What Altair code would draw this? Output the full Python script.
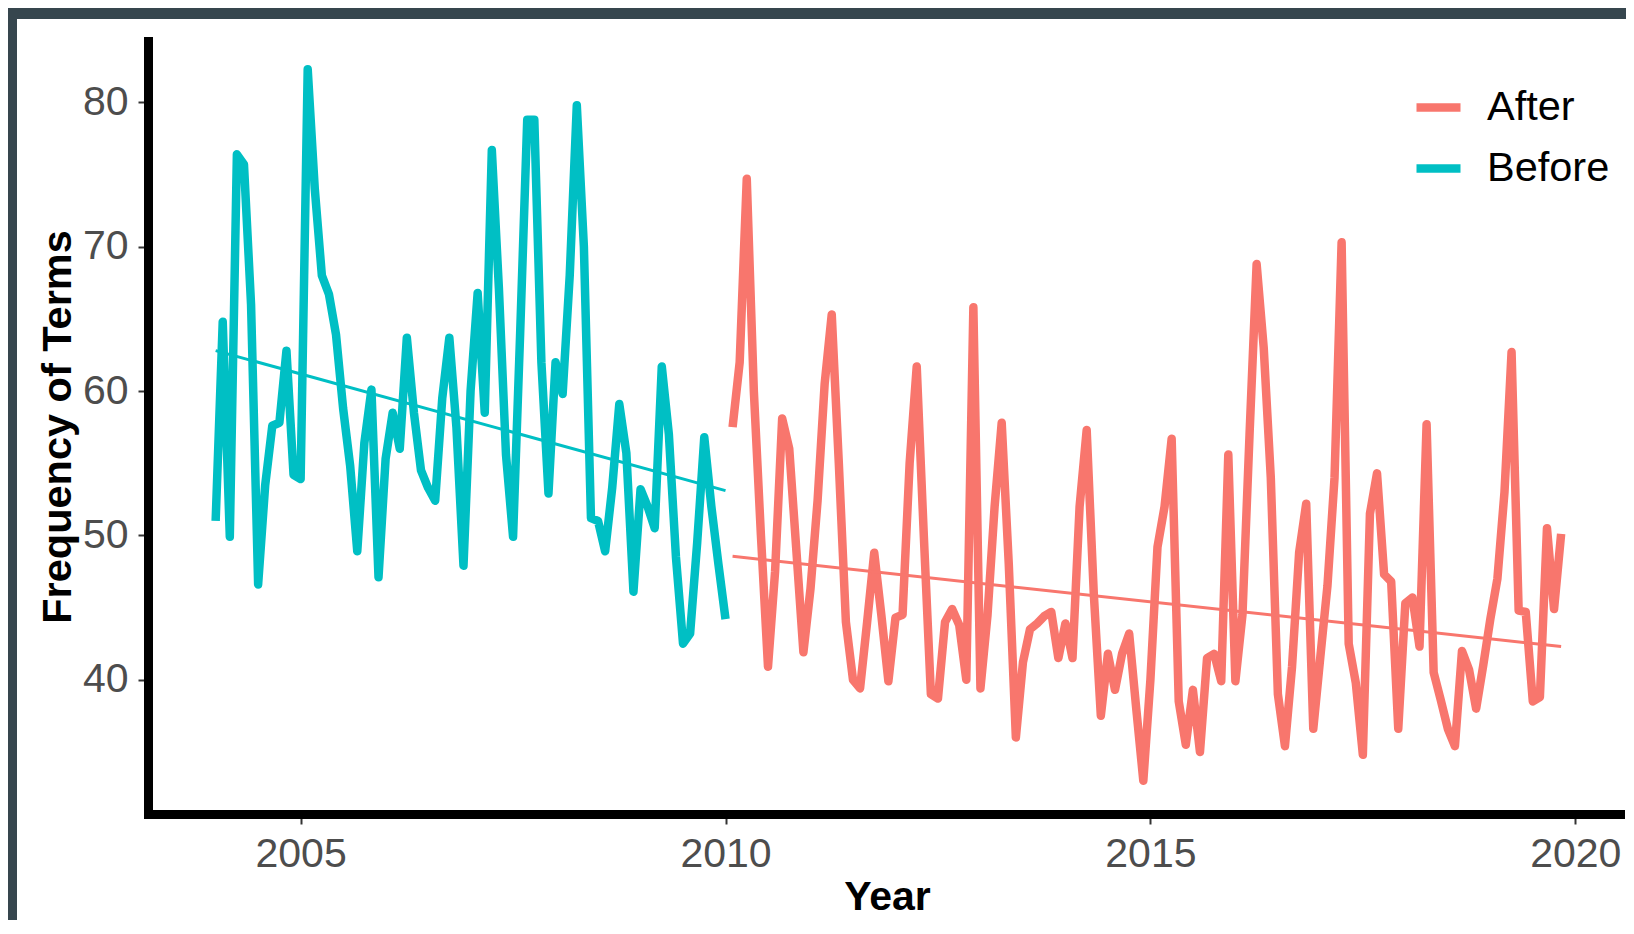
import altair as alt
import pandas as pd

# Monthly values
# Before: Jan 2004 .. Jan 2010
before_values = [
    51.0, 64.8, 49.9, 76.4, 75.7, 66.0, 46.6, 53.5, 57.6, 57.8, 62.8, 54.2,
    53.9, 82.3, 74.0, 68.0, 66.7, 63.9, 58.8, 54.8, 48.9, 56.4, 60.1, 47.1,
    55.3, 58.5, 56.0, 63.7, 58.5, 54.5, 53.3, 52.4, 59.5, 63.7, 57.5, 47.9,
    60.0, 66.8, 58.5, 76.7, 67.1, 55.6, 49.9, 64.0, 78.8, 78.8, 62.0, 52.9,
    62.0, 59.8, 68.0, 79.8, 70.0, 51.2, 51.0, 48.9, 53.3, 59.1, 55.7, 46.1,
    53.2, 52.0, 50.5, 61.7, 57.0, 48.5, 42.5, 43.2, 49.5, 56.8, 52.0, 48.0,
    44.2,
]
# After: Feb 2010 .. Nov 2019
after_values = [
    57.5, 62.0, 74.7, 60.0, 50.0, 40.9, 47.5, 58.1, 56.0, 49.0, 41.9,
    46.3, 52.4, 60.5, 65.3, 55.0, 44.0, 40.0, 39.4, 44.0, 48.8, 44.5, 39.9,
    44.3, 44.5, 55.0, 61.7, 50.0, 39.0, 38.7, 44.0, 44.9, 43.8, 40.0, 65.8,
    39.4, 44.5, 52.0, 57.8, 48.0, 36.0, 41.2, 43.5, 43.9, 44.4, 44.7, 41.5,
    43.9, 41.5, 52.0, 57.3, 46.0, 37.5, 41.8, 39.3, 41.8, 43.2, 38.0, 33.0,
    40.0, 49.2, 52.0, 56.7, 38.5, 35.5, 39.3, 35.0, 41.5, 41.8, 39.9, 55.6,
    39.9, 44.5, 57.0, 68.8, 63.0, 54.0, 39.0, 35.4, 40.9, 48.8, 52.2, 36.6,
    41.6, 46.5, 54.0, 70.3, 42.5, 39.8, 34.8, 51.5, 54.3, 47.3, 46.8, 36.6,
    45.3, 45.7, 42.3, 57.7, 40.5, 38.6, 36.6, 35.4, 42.0, 40.7, 38.0, 41.0,
    44.2, 47.0, 53.0, 62.7, 44.8, 44.7, 38.5, 38.8, 50.5, 44.9, 50.1,
]
before_start_year, before_start_month = 2004, 1
after_start_year, after_start_month = 2010, 2

# Linear trend lines (end points)
trend_periods = ["Before", "Before", "After", "After"]
trend_years = [2004.0, 2010.0, 2010.083, 2019.833]
trend_values = [62.8, 53.1, 48.55, 42.3]

periods = ["After", "Before"]
period_colors = ["#F8766D", "#00BFC4"]
x_ticks = [2005, 2010, 2015, 2020]
y_ticks = [40, 50, 60, 70, 80]

rows = []
for i, v in enumerate(before_values):
    rows.append({"year": before_start_year + (before_start_month - 1 + i) / 12,
                 "value": v, "period": "Before"})
for i, v in enumerate(after_values):
    rows.append({"year": after_start_year + (after_start_month - 1 + i) / 12,
                 "value": v, "period": "After"})
df = pd.DataFrame(rows)
tdf = pd.DataFrame({"year": trend_years, "value": trend_values, "period": trend_periods})

FONT = "Liberation Sans"
W, H = 1472, 773

xscale = alt.Scale(domain=[2003.204, 2020.526], nice=False, zero=False)
yscale = alt.Scale(domain=[30.70, 84.25], nice=False, zero=False)

common_axis = dict(
    grid=False, zindex=1,
    domainColor="black", domainWidth=9, domainCap="square",
    tickColor="#333333", tickSize=10, tickWidth=2,
    labelFont=FONT, labelFontSize=41, labelColor="#4D4D4D",
    labelPadding=10, labelFlush=False, labelOverlap=False,
    titleFont=FONT, titleFontWeight="bold", titleColor="black",
)
xaxis = alt.Axis(values=x_ticks, format="d", title="Year", titleFontSize=41,
                 titleBaseline="alphabetic", titleY=95, titleX=W / 2 + 3,
                 **common_axis)
yaxis = alt.Axis(values=y_ticks, format="d", title="Frequency of Terms",
                 titleFontSize=41.5,
                 titleAngle=-90, titleBaseline="middle", titleAlign="center",
                 titleX=-90, titleY=H / 2 - 1, **common_axis)

color = alt.Color(
    "period:N",
    scale=alt.Scale(domain=periods, range=period_colors),
    legend=alt.Legend(
        title=None, orient="none", legendX=1264, legendY=40, direction="vertical",
        symbolType="stroke", symbolSize=1936, symbolStrokeWidth=8.5,
        labelFont=FONT, labelFontSize=41.5, labelColor="black",
        labelOffset=22, rowPadding=14, padding=0,
    ),
)

# white panel on the dark page background
bg = alt.Chart(pd.DataFrame({"k": [0]})).mark_rect(color="white").encode(
    x=alt.value(-131), x2=alt.value(W + 10), y=alt.value(-22), y2=alt.value(H + 110)
)

lines = alt.Chart(df).mark_line(strokeWidth=8.5, strokeJoin="round").encode(
    x=alt.X("year:Q", scale=xscale, axis=xaxis),
    y=alt.Y("value:Q", scale=yscale, axis=yaxis),
    color=color,
    order="year:Q",
)

trend = alt.Chart(tdf).mark_line(strokeWidth=3).encode(
    x=alt.X("year:Q", scale=xscale),
    y=alt.Y("value:Q", scale=yscale),
    color=color,
)

chart = alt.layer(bg, lines, trend).properties(
    width=W, height=H,
    background="#36464E",
    padding={"left": 140, "top": 33, "right": 6, "bottom": 106},
    autosize=alt.AutoSizeParams(type="none"),
).configure_view(stroke=None)

chart.save("out.html", embed_options={"renderer": "svg", "actions": False})
